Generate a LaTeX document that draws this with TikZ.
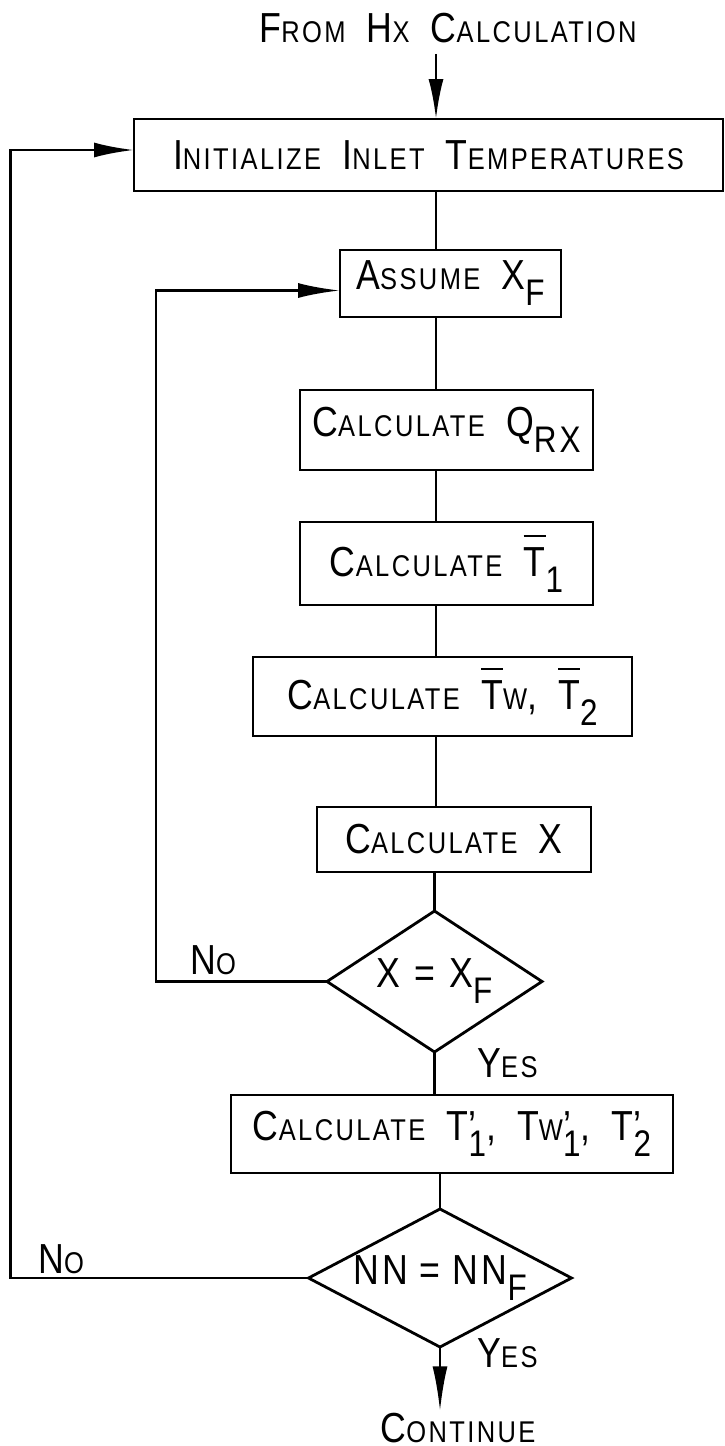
\documentclass[tikz,border=0pt]{standalone}
\usepackage{fontspec}
\setmainfont[FakeStretch=0.85,LetterSpace=8,WordSpace=1.6]{Liberation Sans}
\usepackage{tikz}
\usetikzlibrary{arrows.meta,positioning,shapes.geometric,calc}
\newsavebox\barbox
\newcommand{\sm}[1]{{\fontsize{30pt}{34pt}\selectfont #1}}
\newcommand{\dn}[1]{\raisebox{-16pt}{\fontsize{37pt}{40pt}\selectfont #1}}
\newcommand{\ovbar}[1]{\sbox\barbox{#1}\rlap{\raisebox{\dimexpr\ht\barbox+10pt\relax}{\rule{\wd\barbox}{2.5pt}}}\usebox\barbox}
\newcommand{\pr}[1]{\rlap{’}\raisebox{-16pt}{\fontsize{37pt}{40pt}\selectfont #1}}

\begin{document}
\begin{tikzpicture}[node distance=50pt,line width=2.8pt,every node/.style={font=\fontsize{42pt}{48pt}\selectfont}]
\tikzstyle{blk}=[draw,align=center,inner sep=0pt,outer sep=0pt]
\tikzstyle{dia}=[draw,diamond,inner sep=0pt,outer sep=0pt]
\tikzstyle{lbl}=[inner sep=0pt]
\useasboundingbox (0,0) rectangle (724pt,-1446pt);
\node[blk,minimum width=589pt,minimum height=72pt](init) at (428.5pt,-155pt){I\sm{NITIALIZE} I\sm{NLET} T\sm{EMPERATURES}};
\node[blk,below=59pt of init,xshift=22pt,minimum width=221pt,minimum height=67pt](assume){A\sm{SSUME} X\dn{F}};
\node[blk,below=73pt of assume,xshift=-4pt,minimum width=293pt,minimum height=80pt](qrx){C\sm{ALCULATE} Q\dn{RX}};
\node[blk,below=52pt of qrx,minimum width=293pt,minimum height=83pt](tone){C\sm{ALCULATE} \ovbar{T}\dn{1}};
\node[blk,below=52pt of tone,xshift=-4pt,minimum width=379pt,minimum height=79pt](twtt){C\sm{ALCULATE} \ovbar{T}\sm{W}, \ovbar{T}\dn{2}};
\node[blk,below=71pt of twtt,xshift=11.5pt,minimum width=274pt,minimum height=65pt](calcx){C\sm{ALCULATE} X};
\node[dia,shape aspect=1.52,below=39pt of calcx,xshift=-19.5pt,minimum width=215pt,minimum height=141pt](chkx){\makebox[0pt]{X\hspace{14pt}=\hspace{14pt}X\dn{F}}};
\node[blk,below=43pt of chkx,xshift=17.5pt,minimum width=442pt,minimum height=78pt](prime){C\sm{ALCULATE} T\pr{1}, T\sm{W}\pr{1}, T\pr{2}};
\node[dia,shape aspect=1.9,below=36pt of prime,xshift=-12pt,minimum width=263pt,minimum height=138pt](chknn){\makebox[0pt]{NN\hspace{12pt}=\hspace{12pt}NN\dn{F}}};
\node[lbl,anchor=base](src) at ([xshift=19.5pt,yshift=77pt]init.north){F\sm{ROM} H\sm{X} C\sm{ALCULATION}};
\node[lbl,anchor=base](cont) at ([xshift=18pt,yshift=-95pt]chknn.south){C\sm{ONTINUE}};
\coordinate (spine) at ([xshift=7.5pt]init.south);
\coordinate (loopx) at ([xshift=-171pt]chkx.west);
\coordinate (loopnn) at ([xshift=-298pt]chknn.west);
% main flow
\draw[-{Latex[length=40pt,width=15pt]},shorten <=10pt](src.south -| spine)--(init.north -| spine);
\draw(init.south -| spine)--(assume.north -| spine);
\draw(assume.south -| spine)--(qrx.north -| spine);
\draw(qrx.south -| spine)--(tone.north -| spine);
\draw(tone.south -| spine)--(twtt.north -| spine);
\draw(twtt.south -| spine)--(calcx.north -| spine);
\draw(calcx.south -| chkx.north)--(chkx.north);
\draw(chkx.south)--(prime.north -| chkx.south);
\draw(prime.south -| chknn.north)--(chknn.north);
\draw[-{Latex[length=45pt,width=15pt]}](chknn.south)--(chknn.south |- cont.north);
% loops back
\draw[-{Latex[length=42pt,width=15pt]}](chkx.west)--(loopx)|-([yshift=-7pt]assume.west);
\draw[-{Latex[length=40pt,width=15pt]}](chknn.west)--(loopnn)|-([yshift=5pt]init.west);
\node[lbl,anchor=base west] at ([xshift=33pt,yshift=7pt]loopx){N\sm{O}};
\node[lbl,anchor=base west] at ([xshift=26.5pt,yshift=5pt]loopnn){N\sm{O}};
\node[lbl,anchor=base west] at ([xshift=41.5pt,yshift=-25pt]chkx.south){Y\sm{ES}};
\node[lbl,anchor=base west] at ([xshift=36pt,yshift=-20pt]chknn.south){Y\sm{ES}};
\end{tikzpicture}
\end{document}
